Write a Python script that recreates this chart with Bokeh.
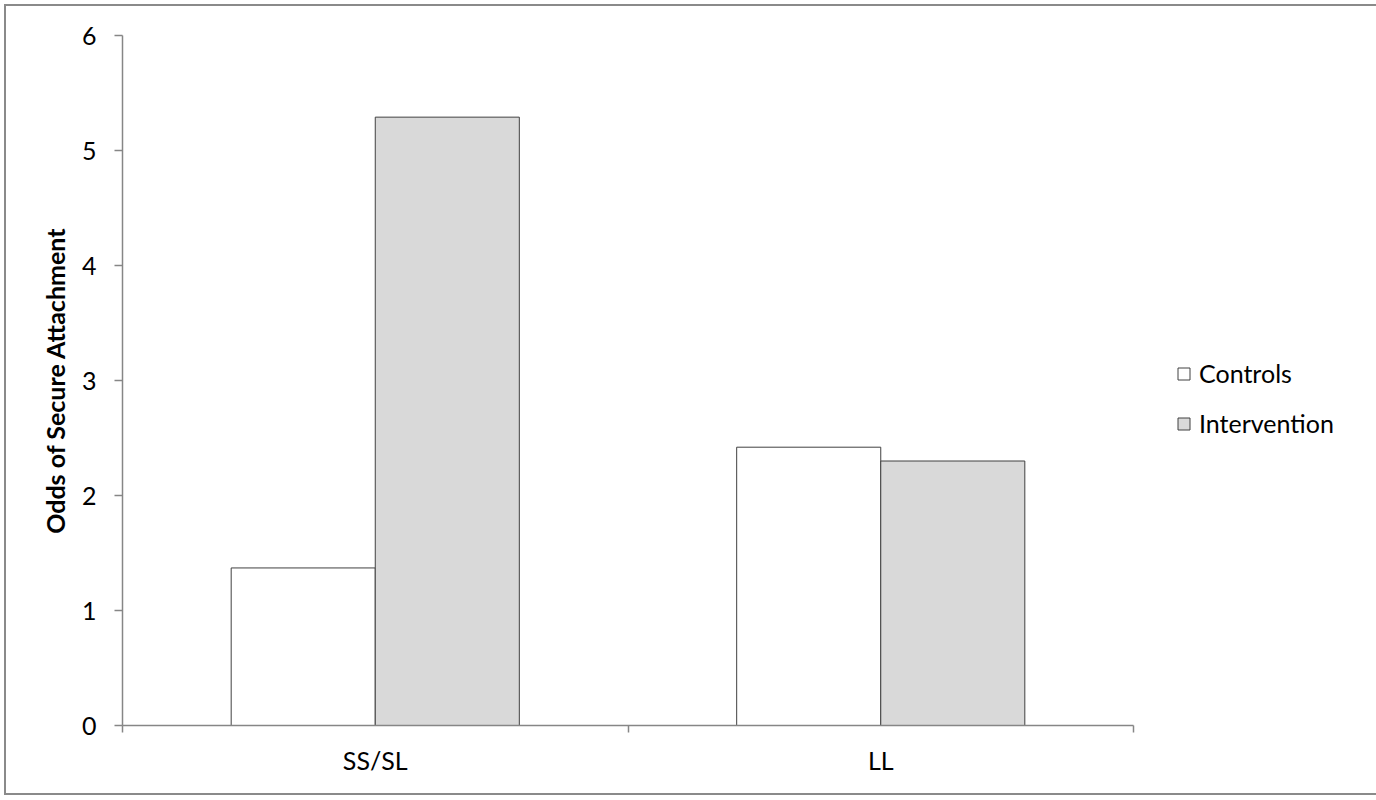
from bokeh.plotting import figure
from bokeh.models import Range1d, FixedTicker, Legend, LegendItem, ColumnDataSource
from bokeh.embed import file_html
from bokeh.resources import INLINE

categories = ["SS/SL", "LL"]
series_names = ["Controls", "Intervention"]
controls = [1.37, 2.42]
intervention = [5.29, 2.30]
y_ticks = [0, 1, 2, 3, 4, 5, 6]

FONT = "Lato"
bar_w = 0.285

p = figure(frame_width=1011, frame_height=690, output_backend="svg", toolbar_location=None,
           x_range=Range1d(0, len(categories)), y_range=Range1d(0, 6),
           min_border_left=116, min_border_top=29, min_border_bottom=68, min_border_right=237)
p.styles = {"border": "2px solid #8a8a8a", "margin": "4px"}
p.outline_line_color = None
p.xgrid.visible = False
p.ygrid.visible = False

centers = [i + 0.5 for i in range(len(categories))]
src_c = ColumnDataSource(dict(x=[c - bar_w / 2 for c in centers], top=controls))
src_i = ColumnDataSource(dict(x=[c + bar_w / 2 for c in centers], top=intervention))
r_c = p.vbar(x="x", top="top", width=bar_w, bottom=0, source=src_c,
             fill_color="white", line_color="#404040", line_width=1)
r_i = p.vbar(x="x", top="top", width=bar_w, bottom=0, source=src_i,
             fill_color="#d9d9d9", line_color="#404040", line_width=1)

# axes
p.xaxis.ticker = FixedTicker(ticks=centers, minor_ticks=list(range(len(categories) + 1)))
p.xaxis.major_label_overrides = {c: lab for c, lab in zip(centers, categories)}
p.xaxis.major_tick_out = 0
p.xaxis.major_tick_in = 0
p.xaxis.minor_tick_out = 7
p.xaxis.minor_tick_in = 0
p.xaxis.minor_tick_line_color = "#868686"
p.xaxis.minor_tick_line_width = 1.5
p.xaxis.major_label_standoff = 12
p.yaxis.ticker = FixedTicker(ticks=y_ticks, minor_ticks=[])
p.yaxis.major_tick_out = 8
p.yaxis.major_tick_in = 0
p.yaxis.major_label_standoff = 18
p.yaxis.axis_label = "Odds of Secure Attachment"
p.yaxis.axis_label_standoff = 9
p.yaxis.axis_label_text_font = FONT
p.yaxis.axis_label_text_font_style = "bold"
p.yaxis.axis_label_text_font_size = "25px"
p.yaxis.axis_label_text_color = "black"
for ax in (p.xaxis, p.yaxis):
    ax.axis_line_color = "#868686"
    ax.axis_line_width = 1.5
    ax.major_tick_line_color = "#868686"
    ax.major_tick_line_width = 1.5
    ax.major_label_text_font = FONT
    ax.major_label_text_font_size = "25px"
    ax.major_label_text_color = "black"

legend = Legend(items=[LegendItem(label=series_names[0], renderers=[r_c]),
                       LegendItem(label=series_names[1], renderers=[r_i])],
                location=(33, 277), orientation="vertical",
                glyph_width=15, glyph_height=15, label_height=22, spacing=20,
                label_standoff=8, label_text_font=FONT, label_text_font_size="25px",
                label_text_color="black", border_line_alpha=0, background_fill_alpha=0,
                margin=0, padding=10)
p.add_layout(legend, "right")

open("out.html", "w").write(file_html(p, INLINE))
